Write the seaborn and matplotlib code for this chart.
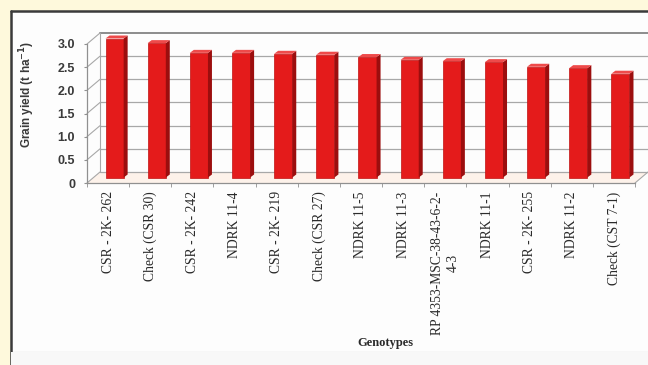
"""
Grain yield of salt-tolerant genotypes -- 3D-style Excel bar chart
rebuilt with seaborn / matplotlib.
"""

import pandas as pd
import numpy as np
import matplotlib
matplotlib.use('Agg')
import matplotlib.pyplot as plt
from matplotlib.patches import Polygon, Rectangle
from matplotlib.lines import Line2D
import seaborn as sns

# ── Data ──────────────────────────────────────────────────────
genotypes = ['CSR - 2K- 262', 'Check (CSR 30)', 'CSR - 2K- 242', 'NDRK 11-4',
             'CSR - 2K- 219', 'Check (CSR 27)', 'NDRK 11-5', 'NDRK 11-3',
             'RP 4353-MSC-38-43-6-2-\n4-3', 'NDRK 11-1', 'CSR - 2K- 255',
             'NDRK 11-2', 'Check (CST 7-1)']
grain_yield = [3.00, 2.90, 2.69, 2.69, 2.67, 2.65, 2.60,
               2.54, 2.51, 2.49, 2.39, 2.36, 2.24]
yticks = [0, 0.5, 1.0, 1.5, 2.0, 2.5, 3.0]
ytick_labels = ['0', '0.5', '1.0', '1.5', '2.0', '2.5', '3.0']

df = pd.DataFrame({'genotype': genotypes, 'grain_yield': grain_yield})

# ── Style ─────────────────────────────────────────────────────
sns.set_style('white')
plt.rcParams['font.family'] = ['Liberation Sans', 'DejaVu Sans']

W, H = 648, 365
fig = plt.figure(figsize=(W / 100, H / 100), dpi=100, facecolor='#FEF9DC')

# white chart panel with dark left/top border
fig.patches.append(Rectangle((11 / W, 0), 1, 1 - 11 / H, transform=fig.transFigure,
                             facecolor='#FDFDFD', edgecolor='none', zorder=-2))
fig.patches.append(Rectangle((11 / W, 0), 1, (H - 352) / H, transform=fig.transFigure,
                             facecolor='#F8F8F8', edgecolor='none', zorder=-1))
for yy in (352, 362):
    fig.lines.append(Line2D([11 / W, 1], [1 - yy / H] * 2, transform=fig.transFigure,
                            color='#E2E2E2', lw=1, zorder=-1))
fig.lines.append(Line2D([11 / W, 11 / W], [0, 1 - 11 / H], transform=fig.transFigure,
                        color='#3A3A3A', lw=1.8, zorder=-1))
fig.lines.append(Line2D([11 / W, 1], [1 - 11 / H] * 2, transform=fig.transFigure,
                        color='#3A3A3A', lw=1.8, zorder=-1))

# axes placed so the front plane matches the picture
x0_px, y0_px, ytop_px = 87, 183, 44
px_per_cat = (635 - 87) / 13
px_per_unit = (y0_px - ytop_px) / 3.0
ymax = (y0_px - 32) / px_per_unit
ax = fig.add_axes([x0_px / W, (H - y0_px) / H, 1 - x0_px / W,
                   (y0_px - 32) / H])
ax.set_zorder(1)
ax.set_facecolor('none')

# 3D depth (back wall offset) in data units
dx = 13 / px_per_cat
dy = 11 / px_per_unit
sdx = 4 / px_per_cat
sdy = 3 / px_per_unit
n = len(genotypes)
xlo, xhi = -0.5, n - 0.5
xright = xlo + (W - x0_px) / px_per_cat

grid_c = '#A8A8A8'
# floor
ax.add_patch(Polygon([(xlo, 0), (xhi, 0), (xhi + dx, dy), (xlo + dx, dy)],
                     closed=True, facecolor='#FDF2EA', edgecolor='none',
                     zorder=0.5, clip_on=False))
ax.plot([xhi, xhi + dx], [0, dy], color=grid_c, lw=0.8, clip_on=False, zorder=0.6)
# back wall + side wall grid
for v in yticks:
    lw = 1.4 if v == 3.0 else 0.9
    c = '#8C8C8C' if v == 3.0 else grid_c
    ax.plot([xlo + dx, xright], [v + dy, v + dy], color=c, lw=lw,
            clip_on=False, zorder=0.6)
    ax.plot([xlo, xlo + dx], [v, v + dy], color=grid_c, lw=0.8,
            clip_on=False, zorder=0.6)
ax.plot([xlo + dx, xlo + dx], [dy, 3.0 + dy], color=grid_c, lw=0.8,
        clip_on=False, zorder=0.6)

# ── Bars ──────────────────────────────────────────────────────
sns.barplot(data=df, x='genotype', y='grain_yield', color='#E41B1B',
            saturation=1, width=0.43, edgecolor='#C01212', linewidth=0.5,
            ax=ax, zorder=2)

for p in list(ax.patches):
    if type(p) is not Rectangle:
        continue
    x, w, h = p.get_x() + dx / 2, p.get_width(), p.get_height()
    b = dy / 2
    p.set_x(x)
    p.set_y(b)
    p.set_clip_on(False)
    side = Polygon([(x + w, b), (x + w + sdx, b + sdy),
                    (x + w + sdx, b + h + sdy), (x + w, b + h)],
                   closed=True, facecolor='#9C0E0E', edgecolor='none',
                   zorder=2, clip_on=False)
    top = Polygon([(x, b + h), (x + sdx, b + h + sdy),
                   (x + w + sdx, b + h + sdy), (x + w, b + h)],
                  closed=True, facecolor='#EE4A4A', edgecolor='none',
                  zorder=2, clip_on=False)
    ax.add_patch(side)
    ax.add_patch(top)

# ── Axes ──────────────────────────────────────────────────────
ax.set_xlim(xlo, xright)
ax.set_ylim(0, ymax)
for s in ['top', 'right']:
    ax.spines[s].set_visible(False)
ax.spines['left'].set_bounds(0, 3.0)
ax.spines['bottom'].set_bounds(xlo, xhi)
for s in ['left', 'bottom']:
    ax.spines[s].set_color('#909090')
    ax.spines[s].set_linewidth(0.9)

ax.set_yticks(yticks, ytick_labels)
ax.tick_params(axis='y', length=2.5, color='#909090', pad=6, labelsize=9,
               labelcolor='#3A3A3A', left=True)
for t in ax.get_yticklabels():
    t.set_fontweight('bold')

ax.set_xticks(range(n), genotypes, rotation=90)
ax.tick_params(axis='x', which='major', length=0, pad=6, labelsize=9.8,
               labelcolor='#2A2A2A')
for t in ax.get_xticklabels():
    t.set_fontfamily('Liberation Serif')
    t.set_multialignment('center')
ax.set_xticks(np.arange(xlo, xhi + 0.1, 1), minor=True)
ax.tick_params(axis='x', which='minor', length=3, color='#909090',
               direction='out', bottom=True)
ax.set_xlabel('')
ax.set_ylabel('')

fig.text(385 / W, 1 - 343 / H, 'Genotypes', ha='center', va='center',
         fontfamily='Liberation Serif', fontweight='bold', fontsize=9,
         color='#2A2A2A')
fig.text(27 / W, 1 - 94 / H, r'Grain yield (t ha$^{\mathbf{-1}}$)',
         rotation=90, ha='center', va='center', fontweight='bold',
         fontsize=8.5, color='#3A3A3A')

plt.savefig('out.png', dpi=100, facecolor=fig.get_facecolor())
plt.close()
